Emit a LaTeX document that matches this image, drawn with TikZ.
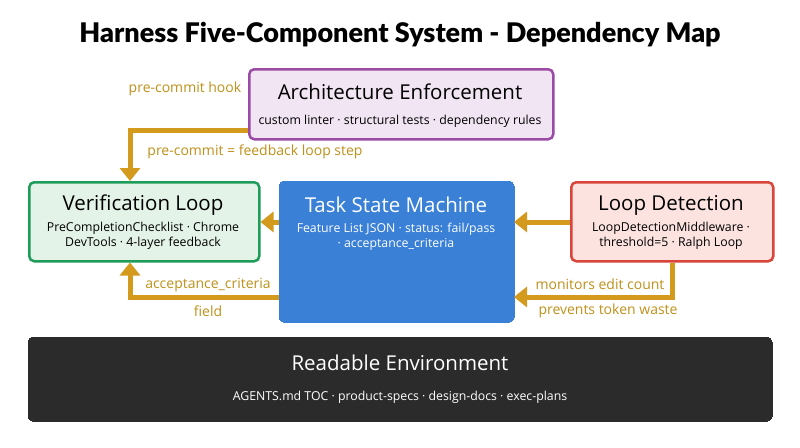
\documentclass[tikz,border=0pt]{standalone}
\usepackage{fontspec}
\setmainfont{Open Sans}
\newfontfamily\titlefont{Lato Black}
\usetikzlibrary{arrows.meta}
\definecolor{gold}{HTML}{D49A1E}
\definecolor{goldtxt}{HTML}{C0901A}
\definecolor{pdraw}{HTML}{9B4BA6}\definecolor{pfill}{HTML}{F1E4F3}
\definecolor{gdraw}{HTML}{1F9C5A}\definecolor{gfill}{HTML}{E3F3E8}
\definecolor{bfill}{HTML}{3A80D6}
\definecolor{rdraw}{HTML}{D9453A}\definecolor{rfill}{HTML}{FCE3E0}
\definecolor{dark}{HTML}{2B2B2B}
\begin{document}
\begin{tikzpicture}[x=1pt,y=-1pt,
  box/.style={rounded corners=5pt,line width=2.5pt,inner sep=0pt,anchor=north west},
  ttl/.style={font=\fontsize{20.5}{22}\selectfont},
  sub/.style={font=\fontsize{12.3}{15}\selectfont,align=center},
  conn/.style={gold,line width=5pt,-{Triangle[length=13pt,width=20pt]}},
  lbl/.style={text=goldtxt,font=\fontsize{14}{15}\selectfont}]
\useasboundingbox[fill=white] (0,0) rectangle (800,447);
\node[font=\fontsize{27}{30}\titlefont] (title) at (400,35) {Harness Five-Component System - Dependency Map};
\node[box,draw=pdraw,fill=pfill,minimum width=304pt,minimum height=70pt] (arch) at (248,68) {};
\node[ttl] (archt) at (400,92) {Architecture Enforcement};
\node[sub] (archs) at (400,121) {custom linter · structural tests · dependency rules};
\node[box,draw=gdraw,fill=gfill,minimum width=230pt,minimum height=79pt] (ver) at (28,181) {};
\node[ttl] (vert) at (143,205) {Verification Loop};
\node[sub] (vers) at (143,236) {PreCompletionChecklist · Chrome\\DevTools · 4-layer feedback};
\node[box,draw=bfill,fill=bfill,line width=0pt,minimum width=235pt,minimum height=141pt] (task) at (279,181) {};
\node[ttl,text=white] (taskt) at (396,205) {Task State Machine};
\node[sub,text=white] (tasks) at (396,237) {Feature List JSON · status: fail/pass\\ · acceptance\_criteria};
\node[box,draw=rdraw,fill=rfill,minimum width=202pt,minimum height=79pt] (loop) at (570,181) {};
\node[ttl] (loopt) at (671,205) {Loop Detection};
\node[sub] (loops) at (671,236) {LoopDetectionMiddleware ·\\ threshold=5 · Ralph Loop};
\node[box,draw=dark,fill=dark,line width=0pt,minimum width=744pt,minimum height=84pt] (env) at (28,337) {};
\node[ttl,text=white] (envt) at (400,363) {Readable Environment};
\node[sub,text=white] (envs) at (400,397) {AGENTS.md TOC · product-specs · design-docs · exec-plans};
\coordinate (c1) at (130,130);
\draw[conn] (arch.west |- 0,130) -- (c1) -- (ver.north -| c1);
\draw[conn] (task.west |- 0,222) -- (ver.east |- 0,222);
\draw[conn] (task.west |- 0,297) -- (130,297) -- (ver.south -| c1);
\draw[conn] (loop.west |- 0,222) -- (task.east |- 0,222);
\draw[conn] (loop.south -| 672,0) -- (672,297) -- (task.east |- 0,297);
\node[lbl] (l1) at (185,89) {pre-commit hook};
\node[lbl] (l2) at (255,152) {pre-commit = feedback loop step};
\node[lbl] (l3) at (208,285) {acceptance\_criteria};
\node[lbl] (l4) at (208,311) {field};
\node[lbl] (l5) at (600,284) {monitors edit count};
\node[lbl] (l6) at (608,311) {prevents token waste};
\end{tikzpicture}
\end{document}
